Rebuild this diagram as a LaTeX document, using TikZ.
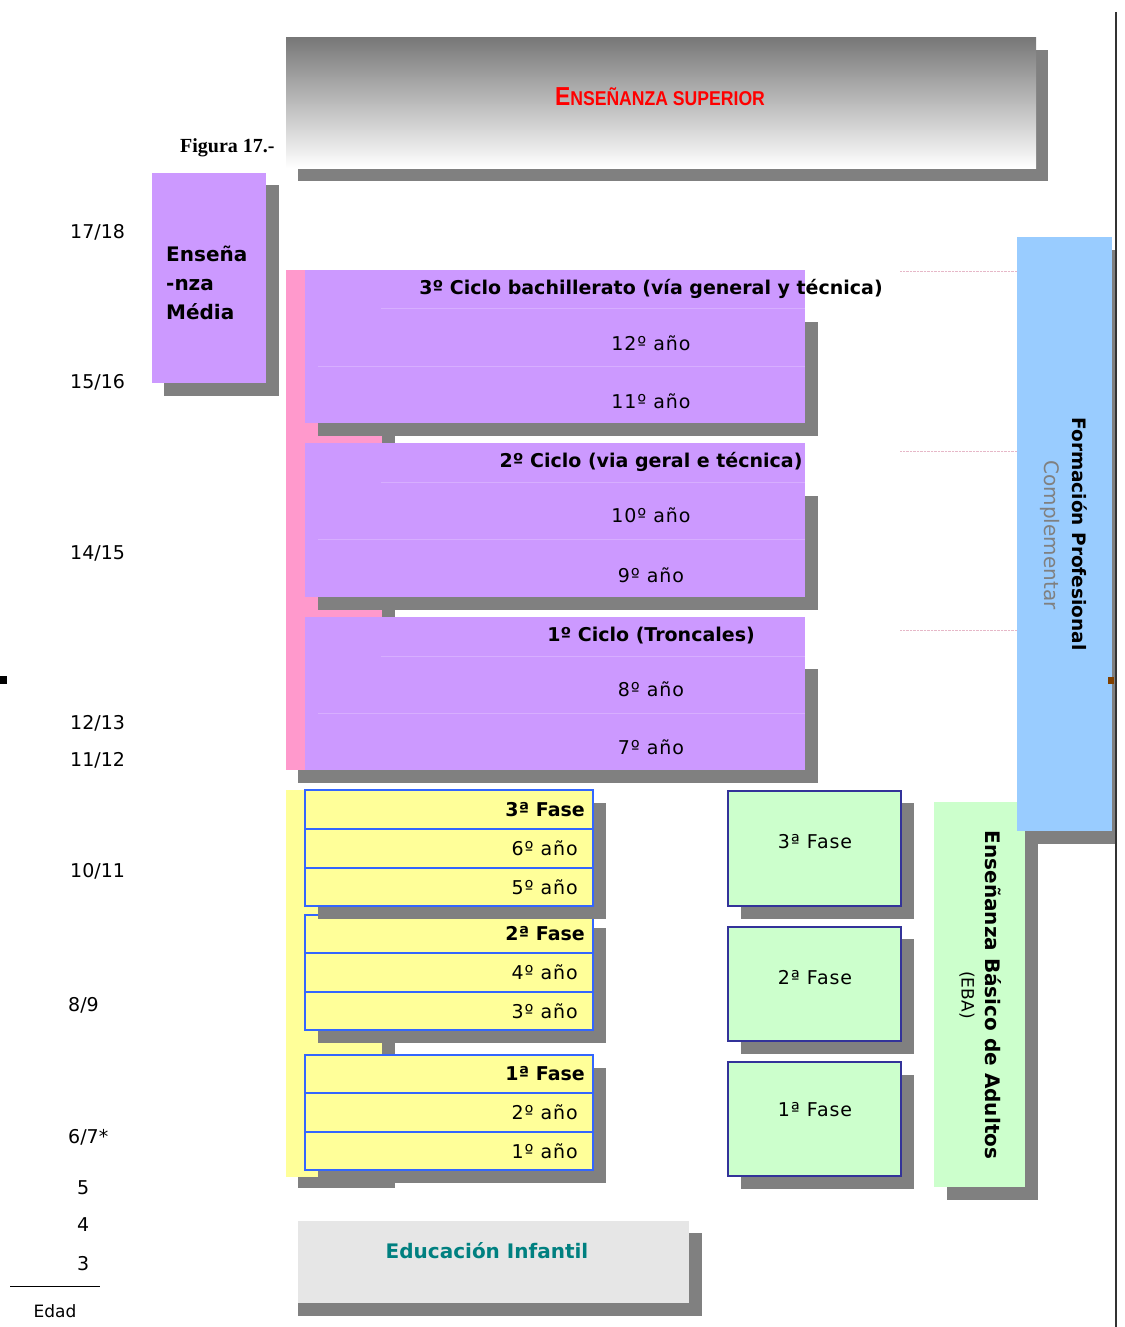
\documentclass[tikz,border=0pt]{standalone}
\usepackage{xcolor}
\usepackage{tikz}
\usepackage{fontspec}
\setmainfont{DejaVu Sans}
\newfontfamily\figfont{Liberation Serif}
\newfontfamily\supfont{Liberation Sans}
\newfontfamily\wideface[LetterSpace=5]{DejaVu Sans}
\definecolor{EDPurple}{HTML}{CC99FF}
\definecolor{EDPurLine}{HTML}{D7AEFF}
\definecolor{EDPink}{HTML}{FF99CC}
\definecolor{EDYellow}{HTML}{FFFF99}
\definecolor{EDGreen}{HTML}{CCFFCC}
\definecolor{EDBlue}{HTML}{99CCFF}
\definecolor{EDShadow}{HTML}{808080}
\definecolor{EDInfant}{HTML}{E6E6E6}
\definecolor{EDTeal}{HTML}{008080}
\definecolor{EDRed}{HTML}{FF0000}
\definecolor{EDBorder}{HTML}{3366FF}
\definecolor{EDNavy}{HTML}{333399}
\definecolor{EDDots}{HTML}{E6B8C8}
\definecolor{EDTop}{HTML}{787878}
\definecolor{EDBrown}{HTML}{804000}

\begin{document}
\begin{tikzpicture}[x=1pt,y=-1pt,
  txt/.style={font=\wideface\fontsize{19}{22}\selectfont,inner sep=0pt},
  hdr/.style={font=\bfseries\fontsize{19}{22}\selectfont,inner sep=0pt},
  age/.style={font=\fontsize{19}{22}\selectfont,inner sep=0pt,anchor=west},
  yrow/.style={fill=EDYellow,draw=EDBorder,line width=1.6pt},
  gbox/.style={fill=EDGreen,draw=EDNavy,line width=1.6pt},
  shd/.style={fill=EDShadow}]
\path[use as bounding box] (0,0) rectangle (1124,1327);
\node[anchor=west,inner sep=0pt,font=\figfont\bfseries\fontsize{20}{22}\selectfont] (fig) at (180,148) {Figura 17.-};
\fill[shd] (298,50) rectangle (1048,181);
\shade[top color=EDTop,bottom color=white] (286,38) rectangle (1036,168);
\node[inner sep=0pt,text=EDRed,font=\supfont\bfseries] (sup) at (660,97) {\scalebox{0.88}[1]{\fontsize{26}{28}\selectfont E\fontsize{20}{28}\selectfont NSEÑANZA SUPERIOR}};
\fill[shd] (164,185) rectangle (279,396);
\fill[EDPurple] (152,173) rectangle (266,383);
\node[anchor=north west,inner sep=0pt,align=left,font=\bfseries\fontsize{20}{29}\selectfont] (media) at (166,246) {Enseña\\-nza\\Média};
\fill[shd] (298,283) rectangle (395,783);
\fill[EDPink] (286,270) rectangle (382,770);
\fill[shd] (298,803) rectangle (395,1188);
\fill[EDYellow] (286,790) rectangle (382,1177);
\fill[shd] (318,322) rectangle (818,436);
\fill[EDPurple] (305,270) rectangle (805,423);
\draw[EDPurLine] (381,308) -- (805,308);
\draw[EDPurLine] (318,366) -- (805,366);
\node[hdr] (c3) at (651,289) {3º Ciclo bachillerato (vía general y técnica)};
\node[txt] (a12) at (651,343) {12º año};
\node[txt] (a11) at (651,401) {11º año};
\fill[shd] (318,496) rectangle (818,610);
\fill[EDPurple] (305,443) rectangle (805,597);
\draw[EDPurLine] (381,482) -- (805,482);
\draw[EDPurLine] (318,539) -- (805,539);
\node[hdr] (c2) at (651,462) {2º Ciclo (via geral e técnica)};
\node[txt] (a10) at (651,515) {10º año};
\node[txt] (a9) at (651,575) {9º año};
\fill[shd] (318,669) rectangle (818,783);
\fill[EDPurple] (305,617) rectangle (805,770);
\draw[EDPurLine] (381,656) -- (805,656);
\draw[EDPurLine] (318,713) -- (805,713);
\node[hdr] (c1) at (651,636) {1º Ciclo (Troncales)};
\node[txt] (a8) at (651,689) {8º año};
\node[txt] (a7) at (651,747) {7º año};
\fill[shd] (318,1068) rectangle (606,1183);
\draw[yrow] (305,1055) rectangle (593,1093);
\draw[yrow] (305,1093) rectangle (593,1132);
\draw[yrow] (305,1132) rectangle (593,1170);
\node[hdr,anchor=east] (f1) at (585,1074) {1ª Fase};
\node[txt,anchor=east] (a2) at (578,1112) {2º año};
\node[txt,anchor=east] (a1) at (578,1151) {1º año};
\fill[shd] (318,928) rectangle (606,1043);
\draw[yrow] (305,915) rectangle (593,953);
\draw[yrow] (305,953) rectangle (593,992);
\draw[yrow] (305,992) rectangle (593,1030);
\node[hdr,anchor=east] (f2) at (585,934) {2ª Fase};
\node[txt,anchor=east] (a4) at (578,972) {4º año};
\node[txt,anchor=east] (a3) at (578,1011) {3º año};
\fill[shd] (318,803) rectangle (606,919);
\draw[yrow] (305,790) rectangle (593,829);
\draw[yrow] (305,829) rectangle (593,868);
\draw[yrow] (305,868) rectangle (593,906);
\node[hdr,anchor=east] (f3) at (585,810) {3ª Fase};
\node[txt,anchor=east] (a6) at (578,848) {6º año};
\node[txt,anchor=east] (a5) at (578,887) {5º año};
\fill[shd] (741,803) rectangle (914,919);
\draw[gbox] (728,791) rectangle (901,906);
\node[txt] (g3) at (815,842) {3ª Fase};
\fill[shd] (741,939) rectangle (914,1054);
\draw[gbox] (728,927) rectangle (901,1041);
\node[txt] (g2) at (815,978) {2ª Fase};
\fill[shd] (741,1075) rectangle (914,1189);
\draw[gbox] (728,1062) rectangle (901,1176);
\node[txt] (g1) at (815,1110) {1ª Fase};
\fill[shd] (947,815) rectangle (1038,1200);
\fill[EDGreen] (934,802) rectangle (1025,1187);
\node[inner sep=0pt,rotate=-90,font=\bfseries\fontsize{20}{22}\selectfont] (eba) at (993,995) {Enseñanza Básico de Adultos};
\node[inner sep=0pt,rotate=-90,font=\fontsize{17}{20}\selectfont] (ebab) at (967,995) {(EBA)};
\fill[shd] (1030,250) rectangle (1116,844);
\fill[EDBlue] (1017,237) rectangle (1112,831);
\node[inner sep=0pt,rotate=-90,font=\bfseries\fontsize{18.5}{22}\selectfont] (fp) at (1080,534) {Formación Profesional};
\node[inner sep=0pt,rotate=-90,text=EDShadow,font=\fontsize{20}{22}\selectfont] (fpc) at (1050,535) {Complementar};
\draw[EDDots,densely dotted] (900,271) -- (1017,271);
\draw[EDDots,densely dotted] (900,451) -- (1017,451);
\draw[EDDots,densely dotted] (900,630) -- (1017,630);
\draw[black!80,line width=1.5pt] (1116,12) -- (1116,1327);
\fill[EDBrown] (1108,677) rectangle (1114,684);
\fill[black] (0,676) rectangle (7,684);
\fill[shd] (298,1233) rectangle (702,1316);
\fill[EDInfant] (298,1221) rectangle (689,1303);
\node[inner sep=0pt,text=EDTeal,font=\bfseries\fontsize{20}{22}\selectfont] (inf) at (487,1251) {Educación Infantil};
\node[age] (e1718) at (70,232) {17/18};
\node[age] (e1516) at (70,382) {15/16};
\node[age] (e1415) at (70,553) {14/15};
\node[age] (e1213) at (70,723) {12/13};
\node[age] (e1112) at (70,760) {11/12};
\node[age] (e1011) at (70,871) {10/11};
\node[age] (e89) at (68,1005) {8/9};
\node[age] (e67) at (68,1137) {6/7*};
\node[age] (e5) at (77,1188) {5};
\node[age] (e4) at (77,1225) {4};
\node[age] (e3) at (77,1264) {3};
\draw[black,line width=1pt] (10,1286) -- (100,1286);
\node[inner sep=0pt,font=\fontsize{17}{20}\selectfont] (edad) at (55,1311) {Edad};
\end{tikzpicture}
\end{document}
